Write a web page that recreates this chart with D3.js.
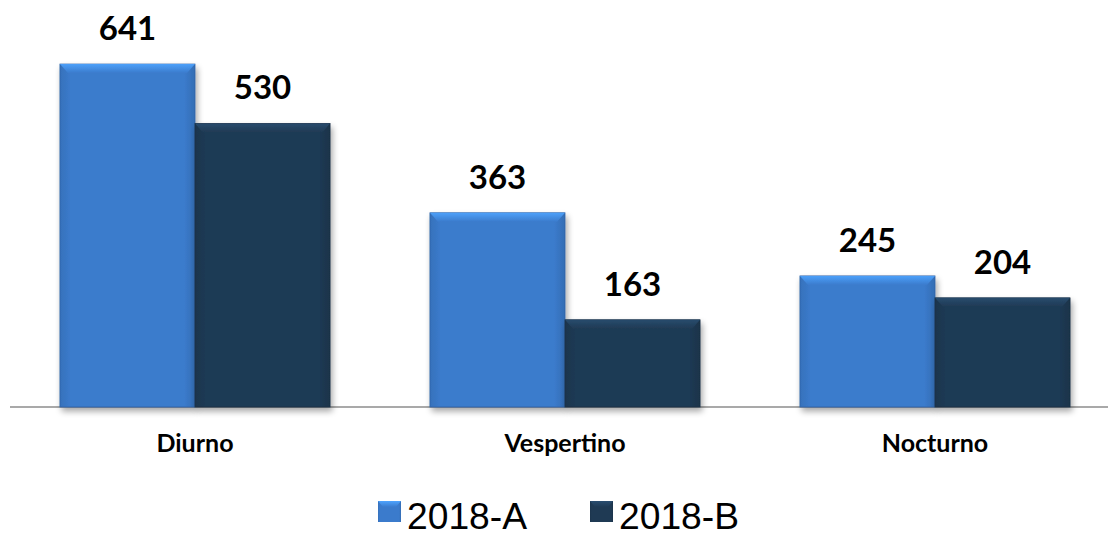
<!DOCTYPE html>
<html><head><meta charset="utf-8">
<script src="https://cdn.jsdelivr.net/npm/d3@7"></script>
<style>body{margin:0;background:#fff}</style>
</head><body>
<svg id="c" width="1108" height="538"></svg>
<script>
const categories = ["Diurno", "Vespertino", "Nocturno"];
const seriesNames = ["2018-A", "2018-B"];
const valuesA = [641, 363, 245];
const valuesB = [530, 163, 204];
const colors = ["#3b7bcc", "#1f3a54"];

const svg = d3.select("#c");
const x0 = d3.scaleBand().domain(categories).range([10, 1120]).paddingInner(0.27).paddingOuter(0.135);
const x1 = d3.scaleBand().domain(seriesNames).range([0, x0.bandwidth()]);
const y = d3.scaleLinear().domain([0, 700]).range([407, 32.5]);

const defs = svg.append("defs");
colors.forEach((c, i) => {
  const g = defs.append("linearGradient").attr("id", "g" + i).attr("x1", 0).attr("x2", 1).attr("y1", 0).attr("y2", 0);
  g.append("stop").attr("offset", "0%").attr("stop-color", d3.color(c).darker(0.25));
  g.append("stop").attr("offset", "8%").attr("stop-color", c);
  g.append("stop").attr("offset", "92%").attr("stop-color", c);
  g.append("stop").attr("offset", "100%").attr("stop-color", d3.color(c).darker(0.35));
  const t = defs.append("linearGradient").attr("id", "t" + i).attr("x1", 0).attr("x2", 0).attr("y1", 0).attr("y2", 1);
  t.append("stop").attr("offset", "0%").attr("stop-color", d3.color(c).brighter(0.8));
  t.append("stop").attr("offset", "100%").attr("stop-color", c);
});
const f = defs.append("filter").attr("id", "sh").attr("x", "-10%").attr("y", "-10%").attr("width", "130%").attr("height", "130%");
f.append("feGaussianBlur").attr("in", "SourceAlpha").attr("stdDeviation", 3);
f.append("feOffset").attr("dx", 2).attr("dy", 4).attr("result", "b");
f.append("feComponentTransfer").append("feFuncA").attr("type", "linear").attr("slope", 0.35);
const m = f.append("feMerge"); m.append("feMergeNode"); m.append("feMergeNode").attr("in", "SourceGraphic");

const data = [];
categories.forEach((c, i) => {
  data.push({cat: c, s: 0, v: valuesA[i]});
  data.push({cat: c, s: 1, v: valuesB[i]});
});

svg.append("line").attr("x1", 10).attr("x2", 1108).attr("y1", y(0)).attr("y2", y(0))
  .attr("stroke", "#8c8c8c").attr("stroke-width", 1.5);

const bars = svg.append("g").selectAll("g").data(data).join("g").attr("filter", "url(#sh)");
bars.append("rect")
  .attr("x", d => x0(d.cat) + x1(seriesNames[d.s]))
  .attr("y", d => y(d.v))
  .attr("width", x1.bandwidth())
  .attr("height", d => y(0) - y(d.v))
  .attr("fill", d => `url(#g${d.s})`)
  .attr("stroke", d => d3.color(colors[d.s]).darker(0.6)).attr("stroke-width", 0.8);
bars.append("path")
  .attr("d", d => {
    const xl = x0(d.cat) + x1(seriesNames[d.s]), w = x1.bandwidth(), yt = y(d.v);
    return `M${xl},${yt}L${xl + w},${yt}L${xl + w - 8},${yt + 9}L${xl + 8},${yt + 9}Z`;
  })
  .attr("fill", d => `url(#t${d.s})`).attr("opacity", 0.9);

svg.append("g").selectAll("text").data(data).join("text")
  .attr("x", d => x0(d.cat) + x1(seriesNames[d.s]) + x1.bandwidth() / 2)
  .attr("y", d => y(d.v) - 24)
  .attr("text-anchor", "middle")
  .attr("font-family", "Lato, 'Open Sans', sans-serif").attr("font-weight", "bold")
  .attr("font-size", 33).attr("fill", "#000")
  .text(d => d.v);

svg.append("g").selectAll("text").data(categories).join("text")
  .attr("x", d => x0(d) + x0.bandwidth() / 2)
  .attr("y", 452)
  .attr("text-anchor", "middle")
  .attr("font-family", "Lato, 'Open Sans', sans-serif").attr("font-weight", "bold")
  .attr("font-size", 25).attr("fill", "#000")
  .text(d => d);

const legX = [378, 590];
const leg = svg.append("g").selectAll("g").data(seriesNames).join("g")
  .attr("transform", (d, i) => `translate(${legX[i]},0)`);
leg.append("rect").attr("x", 0).attr("y", 501).attr("width", 23).attr("height", 21)
  .attr("fill", (d, i) => `url(#g${i})`);
leg.append("path").attr("d", "M0,501L23,501L18,507L5,507Z").attr("fill", (d, i) => `url(#t${i})`);
leg.append("text").attr("x", 29).attr("y", 529)
  .attr("font-family", "'Liberation Sans', Arial, sans-serif").attr("font-size", 37).attr("fill", "#000")
  .attr("textLength", 120).attr("lengthAdjust", "spacingAndGlyphs")
  .text(d => d);
</script>
</body></html>
